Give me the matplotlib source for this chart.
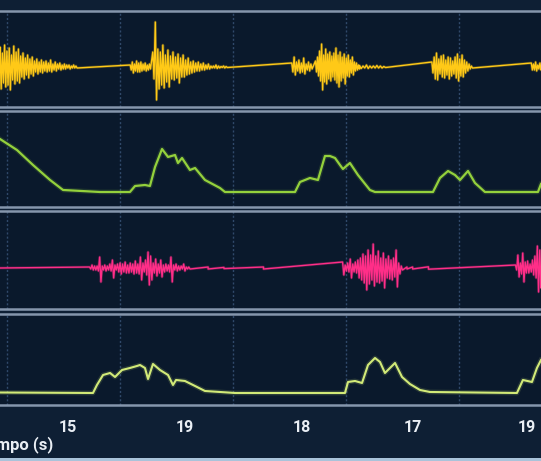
import numpy as np
import matplotlib.pyplot as plt
from matplotlib.patches import Rectangle

plt.rcParams['font.family'] = ['Roboto', 'DejaVu Sans']

# eje de tiempo (s), rejilla cada 1 s
t_min, t_max = -0.062, 4.726
grid_t = [0, 1, 2, 3, 4]
tick_pos = [0.54, 1.57, 2.61, 3.59, 4.60]
tick_labels = ['15', '19', '18', '17', '19']

# panel 1 (amarillo): rafagas -> (t inicio, t fin, picos arriba, picos abajo)
p1_bursts = [
    (-0.062, 0.62,
     [0.20, 0.14, 0.22, 0.16, 0.19, 0.12, 0.21, 0.15, 0.18, 0.11, 0.14, 0.09, 0.12, 0.08, 0.10, 0.06, 0.08,
      0.05, 0.07, 0.05, 0.06, 0.04, 0.07, 0.03, 0.05, 0.03, 0.04, 0.02, 0.03, 0.02, 0.02, 0.01, 0.02, 0.01],
     [0.22, 0.16, 0.20, 0.18, 0.23, 0.13, 0.17, 0.14, 0.16, 0.10, 0.12, 0.08, 0.11, 0.07, 0.09, 0.05, 0.07,
      0.05, 0.06, 0.04, 0.05, 0.04, 0.05, 0.03, 0.04, 0.02, 0.03, 0.02, 0.02, 0.01, 0.02, 0.01, 0.01, 0.01]),
    (1.09, 1.27,
     [0.02, 0.05, 0.03, 0.06, 0.04, 0.05, 0.03, 0.04, 0.02, 0.03],
     [0.03, 0.06, 0.04, 0.05, 0.05, 0.04, 0.03, 0.04, 0.03, 0.02]),
    (1.29, 1.95,
     [0.15, 0.45, 0.18, 0.15, 0.22, 0.12, 0.17, 0.11, 0.15, 0.10, 0.13, 0.09, 0.12, 0.07, 0.09, 0.05, 0.06,
      0.04, 0.05, 0.03, 0.04, 0.02, 0.03, 0.01, 0.01, 0.02, 0.01, 0.005, 0.01, 0.005],
     [0.12, 0.33, 0.22, 0.18, 0.21, 0.15, 0.20, 0.12, 0.13, 0.11, 0.16, 0.10, 0.10, 0.08, 0.07, 0.06, 0.05,
      0.04, 0.04, 0.03, 0.03, 0.02, 0.02, 0.01, 0.01, 0.015, 0.01, 0.005, 0.01, 0.005]),
    (2.52, 2.70,
     [0.04, 0.10, 0.05, 0.07, 0.04, 0.09, 0.03, 0.05, 0.03],
     [0.05, 0.08, 0.04, 0.06, 0.05, 0.07, 0.03, 0.04, 0.02]),
    (2.73, 3.12,
     [0.06, 0.10, 0.16, 0.23, 0.12, 0.18, 0.13, 0.15, 0.11, 0.14, 0.19, 0.12, 0.15, 0.10, 0.13, 0.09, 0.12,
      0.07, 0.10, 0.05, 0.04, 0.02],
     [0.05, 0.09, 0.14, 0.23, 0.15, 0.17, 0.12, 0.14, 0.10, 0.13, 0.16, 0.20, 0.14, 0.11, 0.17, 0.09, 0.10,
      0.06, 0.08, 0.04, 0.03, 0.02]),
    (3.12, 3.35,
     [0.015, 0.01, 0.02, 0.01, 0.01, 0.015, 0.01, 0.005],
     [0.015, 0.01, 0.015, 0.01, 0.01, 0.01, 0.01, 0.005]),
    (3.76, 4.12,
     [0.05, 0.10, 0.14, 0.08, 0.11, 0.12, 0.07, 0.10, 0.09, 0.06, 0.10, 0.13, 0.08, 0.12, 0.07, 0.05, 0.03, 0.01],
     [0.06, 0.12, 0.13, 0.07, 0.10, 0.11, 0.08, 0.12, 0.09, 0.07, 0.11, 0.14, 0.09, 0.10, 0.06, 0.04, 0.02, 0.01]),
    (4.64, 4.726,
     [0.04, 0.03, 0.05, 0.02, 0.04],
     [0.03, 0.03, 0.04, 0.02, 0.03]),
]

# panel 2 (verde): envolvente
p2_t = [-0.062, 0.088, 0.230, 0.381, 0.496, 0.823, 1.088, 1.133, 1.221, 1.265, 1.310, 1.372, 1.425, 1.487,
        1.513, 1.549, 1.619, 1.664, 1.752, 1.885, 1.929, 2.549, 2.593, 2.681, 2.752, 2.814, 2.858, 2.903,
        2.947, 2.973, 3.035, 3.106, 3.212, 3.257, 3.770, 3.832, 3.903, 3.965, 4.009, 4.080, 4.142, 4.230,
        4.699, 4.726]
p2_y = [0.53, 0.42, 0.27, 0.12, 0.02, 0.0, 0.0, 0.06, 0.07, 0.06, 0.25, 0.43, 0.35, 0.37,
        0.29, 0.34, 0.22, 0.24, 0.12, 0.04, 0.0, 0.0, 0.10, 0.14, 0.12, 0.36, 0.36, 0.34,
        0.27, 0.23, 0.29, 0.17, 0.02, 0.0, 0.0, 0.14, 0.21, 0.17, 0.12, 0.21, 0.09, 0.0,
        0.0, 0.08]

# panel 3 (rosa): rafagas
p3_bursts = [
    (0.73, 1.62,
     [0.01, 0.03, 0.02, 0.02, 0.11, 0.02, 0.03, 0.02, 0.04, 0.08, 0.03, 0.04, 0.05, 0.04, 0.06, 0.03, 0.05,
      0.04, 0.07, 0.04, 0.11, 0.05, 0.08, 0.16, 0.12, 0.05, 0.09, 0.04, 0.08, 0.03, 0.04, 0.03, 0.11, 0.03,
      0.04, 0.02, 0.02, 0.04, 0.01, 0.01],
     [0.01, 0.02, 0.02, 0.03, 0.14, 0.02, 0.03, 0.02, 0.03, 0.10, 0.02, 0.04, 0.06, 0.04, 0.05, 0.05, 0.04,
      0.06, 0.05, 0.06, 0.12, 0.04, 0.07, 0.17, 0.12, 0.05, 0.08, 0.05, 0.09, 0.04, 0.03, 0.04, 0.14, 0.02,
      0.03, 0.02, 0.01, 0.03, 0.01, 0.01]),
    (1.78, 1.78, [0.010], [0.010]),
    (1.92, 1.92, [0.006], [0.006]),
    (2.27, 2.27, [0.010], [0.010]),
    (2.97, 3.50,
     [0.06, 0.03, 0.05, 0.09, 0.04, 0.06, 0.08, 0.10, 0.14, 0.12, 0.18, 0.13, 0.24, 0.12, 0.17, 0.10, 0.15,
      0.09, 0.12, 0.08, 0.10, 0.18, 0.05, 0.02],
     [0.07, 0.03, 0.04, 0.10, 0.04, 0.05, 0.10, 0.12, 0.15, 0.22, 0.16, 0.12, 0.18, 0.14, 0.15, 0.13, 0.20,
      0.10, 0.11, 0.12, 0.09, 0.19, 0.06, 0.02]),
    (3.54, 3.54, [0.010], [0.010]),
    (3.59, 3.59, [0.010], [0.010]),
    (3.73, 3.73, [0.012], [0.012]),
    (4.50, 4.726,
     [0.03, 0.13, 0.05, 0.15, 0.06, 0.07, 0.04, 0.08, 0.12, 0.22, 0.18],
     [0.02, 0.09, 0.06, 0.14, 0.05, 0.05, 0.04, 0.07, 0.10, 0.24, 0.20]),
]

# panel 4 (verde claro): envolvente
p4_t = [-0.062, 0.761, 0.796, 0.850, 0.912, 0.956, 1.018, 1.088, 1.150, 1.177, 1.221, 1.248, 1.292, 1.354,
        1.425, 1.469, 1.496, 1.575, 1.664, 1.752, 2.018, 2.991, 3.018, 3.080, 3.142, 3.195, 3.257, 3.301,
        3.345, 3.434, 3.496, 3.566, 3.655, 3.743, 4.513, 4.566, 4.646, 4.690, 4.726]
p4_y = [0.005, 0.0, 0.08, 0.18, 0.20, 0.16, 0.23, 0.25, 0.27, 0.28, 0.25, 0.14, 0.29, 0.23,
        0.18, 0.08, 0.13, 0.12, 0.07, 0.02, 0.0, 0.0, 0.11, 0.12, 0.10, 0.28, 0.35, 0.31,
        0.20, 0.30, 0.16, 0.09, 0.03, 0.01, 0.0, 0.13, 0.11, 0.25, 0.33]


def burst_trace(bursts):
    t, y = [t_min], [0.0]
    for t0, t1, up, down in bursts:
        n = len(up)
        yy = np.empty(2 * n)
        yy[0::2] = up
        yy[1::2] = -np.asarray(down)
        t.extend(np.linspace(t0, t1, 2 * n))
        y.extend(yy)
    t.append(t_max)
    y.append(0.0)
    return t, y


bg = '#0e1f34'
face = '#0a192c'
spine_c = '#8596ac'

fig = plt.figure(figsize=(5.41, 4.61), dpi=100, facecolor=bg)

# [bottom, height] de cada panel, ylim
rects = [(0.7679, 0.2082), (0.5510, 0.2082), (0.3297, 0.2126), (0.1215, 0.1974)]
ylims = [(-0.40, 0.56), (-0.15, 0.81), (-0.41, 0.57), (-0.12, 0.79)]

axes = []
for (b, h), yl in zip(rects, ylims):
    ax = fig.add_axes([0, b, 1, h], facecolor=face)
    ax.set_xlim(t_min, t_max)
    ax.set_ylim(*yl)
    ax.set_yticks([])
    ax.set_xticks(grid_t, minor=True)
    ax.set_xticks([])
    ax.grid(which='minor', axis='x', color='#30496a', lw=1.0, ls=(0, (1.5, 1.5)))
    ax.tick_params(which='both', length=0)
    for s in ['left', 'right']:
        ax.spines[s].set_visible(False)
    for s in ['top', 'bottom']:
        ax.spines[s].set_color(spine_c)
        ax.spines[s].set_linewidth(1.8)
    axes.append(ax)

t1, y1 = burst_trace(p1_bursts)
axes[0].plot(t1, y1, color='#ffc917', lw=2.0, alpha=0.25, zorder=2)
axes[0].plot(t1, y1, color='#ffc917', lw=1.0, zorder=3)

axes[1].plot(p2_t, p2_y, color='#8fd13a', lw=3.5, alpha=0.15, zorder=2)
axes[1].plot(p2_t, p2_y, color='#94d13c', lw=1.6, zorder=3)

t3, y3 = burst_trace(p3_bursts)
axes[2].plot(t3, y3, color='#ff2e88', lw=2.0, alpha=0.25, zorder=2)
axes[2].plot(t3, y3, color='#ff2e88', lw=1.0, zorder=3)

axes[3].plot(p4_t, p4_y, color='#d2ea78', lw=3.5, alpha=0.15, zorder=2)
axes[3].plot(p4_t, p4_y, color='#d2ea78', lw=1.5, zorder=3)

axes[3].set_xticks(tick_pos, tick_labels)
axes[3].tick_params(axis='x', length=0, pad=11, labelsize=11.5, labelcolor='#e9eef4')
for lab in axes[3].get_xticklabels():
    lab.set_fontweight('bold')

# etiqueta recortada por el borde izquierdo, como en la referencia
fig.text(53 / 541, 1 - 445 / 461, 'Tiempo (s)', ha='right', va='center',
         fontsize=12, color='#e9eef4', fontweight='bold')

fig.patches.append(Rectangle((0, 0), 1, 3.5 / 461, transform=fig.transFigure,
                             facecolor='#a9c3da', edgecolor='none'))

fig.savefig('out.png', dpi=100, facecolor=bg)
